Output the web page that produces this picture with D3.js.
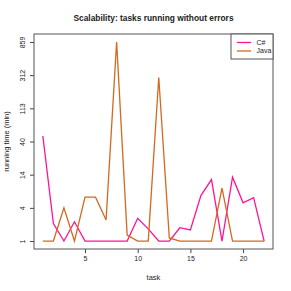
<!DOCTYPE html>
<html>
<head>
<meta charset="utf-8">
<script src="https://cdn.jsdelivr.net/npm/d3@7"></script>
<style>
  body { margin: 0; background: #fff; }
  text { font-family: "Liberation Sans", Arial, sans-serif; fill: #222; }
</style>
</head>
<body>
<script>
var width = 291;
var height = 291;

// data
var tasks = [1, 2, 3, 4, 5, 6, 7, 8, 9, 10, 11, 12, 13, 14, 15, 16, 17, 18, 19, 20, 21, 22];
var csharp = [48, 2.4, 1, 2.6, 1, 1, 1, 1, 1, 3, 1.9, 1, 1, 2, 1.8, 7, 12, 1, 13, 5.4, 6.5, 1];
var java = [1, 1, 4.5, 1, 6.6, 6.6, 2.8, 859, 1.4, 1, 1, 290, 1.2, 1, 1, 1, 1, 9, 1, 1, 1, 1];
var seriesNames = ['C#', 'Java'];
var seriesColors = ['#ff1493', '#d2691e'];
var xTicks = [5, 10, 15, 20];
var yTickLabels = [1, 4, 14, 40, 113, 312, 859];

var margin = {left: 34, right: 18, top: 34, bottom: 42};

var svg = d3.select('body').append('svg')
    .attr('width', width)
    .attr('height', height);

// x: R style 4% padding
var xPad = (d3.max(tasks) - d3.min(tasks)) * 0.04;
var x = d3.scaleLinear()
    .domain([d3.min(tasks) - xPad, d3.max(tasks) + xPad])
    .range([margin.left, width - margin.right]);

// y: log(v + 1) transform
var t0 = Math.log1p(yTickLabels[0]);
var t1 = Math.log1p(yTickLabels[yTickLabels.length - 1]);
var yPad = (t1 - t0) * 0.04;
var y = d3.scaleLinear()
    .domain([t0 - yPad, t1 + yPad])
    .range([height - margin.bottom, margin.top]);
var yTickPos = yTickLabels.map(function(d, i) {
  return t0 + i * (t1 - t0) / (yTickLabels.length - 1);
});

// axes
var xAxis = svg.append('g')
    .attr('transform', 'translate(0,' + (height - margin.bottom) + ')')
    .call(d3.axisBottom(x).tickValues(xTicks).tickSize(4).tickPadding(3));
var yAxis = svg.append('g')
    .attr('transform', 'translate(' + margin.left + ',0)')
    .call(d3.axisLeft(y).tickValues(yTickPos).tickSize(4)
      .tickFormat(function(d, i) { return yTickLabels[i]; }));

[xAxis, yAxis].forEach(function(a) {
  a.select('.domain').remove();
  a.selectAll('line').attr('stroke', '#444');
  a.selectAll('text').attr('font-size', 7).attr('fill', '#222');
});

yAxis.selectAll('.tick text')
    .attr('x', null).attr('dy', null)
    .attr('text-anchor', 'middle')
    .attr('transform', 'translate(-9,0) rotate(-90)');

// box
svg.append('rect')
    .attr('x', margin.left)
    .attr('y', margin.top)
    .attr('width', width - margin.left - margin.right)
    .attr('height', height - margin.top - margin.bottom)
    .attr('fill', 'none')
    .attr('stroke', '#555')
    .attr('stroke-width', 1);

// lines
var line = d3.line()
    .x(function(d, i) { return x(tasks[i]); })
    .y(function(d) { return y(Math.log1p(d)); });

[csharp, java].forEach(function(s, k) {
  svg.append('path')
      .datum(s)
      .attr('d', line)
      .attr('fill', 'none')
      .attr('stroke', seriesColors[k])
      .attr('stroke-width', 1.3);
});

// title and labels
svg.append('text')
    .attr('x', (margin.left + width - margin.right) / 2)
    .attr('y', 20.5)
    .attr('text-anchor', 'middle')
    .attr('font-size', 8.4)
    .attr('font-weight', 'bold')
    .text('Scalability: tasks running without errors');

svg.append('text')
    .attr('x', (margin.left + width - margin.right) / 2)
    .attr('y', 280)
    .attr('text-anchor', 'middle')
    .attr('font-size', 7.5)
    .text('task');

svg.append('text')
    .attr('transform', 'translate(9,' + ((margin.top + height - margin.bottom) / 2) + ') rotate(-90)')
    .attr('text-anchor', 'middle')
    .attr('font-size', 7.5)
    .text('running time (min)');

// legend
var lg = svg.append('g')
    .attr('transform', 'translate(231,' + margin.top + ')');
lg.append('rect')
    .attr('width', width - margin.right - 231)
    .attr('height', 25)
    .attr('fill', '#fff')
    .attr('stroke', '#555');
seriesNames.forEach(function(n, k) {
  lg.append('line')
      .attr('x1', 6).attr('x2', 20)
      .attr('y1', 8.5 + k * 8.5).attr('y2', 8.5 + k * 8.5)
      .attr('stroke', seriesColors[k])
      .attr('stroke-width', 1.3);
  lg.append('text')
      .attr('x', 25.5)
      .attr('y', 8.5 + k * 8.5)
      .attr('dy', '0.35em')
      .attr('font-size', 7)
      .text(n);
});
</script>
</body>
</html>
